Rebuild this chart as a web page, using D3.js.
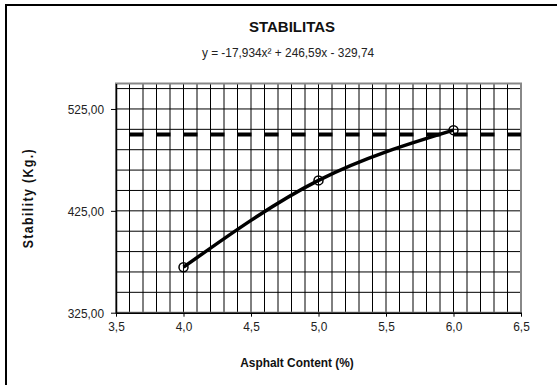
<!DOCTYPE html>
<html>
<head>
<meta charset="utf-8">
<script src="https://cdn.jsdelivr.net/npm/d3@7"></script>
<style>
  body { margin: 0; background: #fff; }
  svg { display: block; font-family: "Liberation Sans", Arial, sans-serif; }
</style>
</head>
<body>
<svg id="chart" width="557" height="385"></svg>
<script>
// Data;
const asphaltContent = [4.0, 5.0, 6.0];
const stability = [369.7, 454.9, 504.2];
const limitX = [3.6, 6.5];
const limitY = [500, 500];
const xTicks = [3.5, 4.0, 4.5, 5.0, 5.5, 6.0, 6.5];
const yTicks = [325, 425, 525];
const chartTitle = 'STABILITAS';
const equation = 'y = -17,934x² + 246,59x - 329,74';
const xTitle = 'Asphalt Content (%)';
const yTitle = 'Stability (Kg.)';

const svg = d3.select('#chart');
const fmt = (d, n) => d.toFixed(n).replace('.', ',');
// Narrow look of the original labels;
const SQ = 0.88;

// Outer frame;
svg.append('rect')
    .attr('x', 6).attr('y', 5)
    .attr('width', 600).attr('height', 420)
    .attr('fill', 'none').attr('stroke', '#000').attr('stroke-width', 2);

// Scales;
const x = d3.scaleLinear().domain([3.5, 6.5]).range([116, 521]);
const y = d3.scaleLinear().domain([325, 550]).range([312.7, 83.5]);

// Grid;
const grid = svg.append('g').attr('stroke', '#000').attr('stroke-width', 1);
grid.selectAll('.vg')
    .data(d3.range(36, 65).map((d) => d / 10))
    .enter().append('line')
    .attr('x1', (d) => x(d)).attr('x2', (d) => x(d))
    .attr('y1', y.range()[0]).attr('y2', y.range()[1]);
grid.selectAll('.hg')
    .data(d3.range(345, 550, 20))
    .enter().append('line')
    .attr('x1', x.range()[0]).attr('x2', x.range()[1])
    .attr('y1', (d) => y(d)).attr('y2', (d) => y(d));

// Plot border;
svg.append('rect')
    .attr('x', x.range()[0]).attr('y', y.range()[1])
    .attr('width', x.range()[1] - x.range()[0])
    .attr('height', y.range()[0] - y.range()[1])
    .attr('fill', 'none').attr('stroke', '#888').attr('stroke-width', 2);

// Axes;
const xAxis = svg.append('g')
    .attr('transform', `translate(0,${y.range()[0]})`)
    .call(d3.axisBottom(x).tickValues(xTicks).tickSize(4).tickSizeOuter(0).tickFormat((d) => fmt(d, 1)));
const yAxis = svg.append('g')
    .attr('transform', `translate(${x.range()[0]},0)`)
    .call(d3.axisLeft(y).tickValues(yTicks).tickSize(5).tickSizeOuter(0).tickFormat((d) => fmt(d, 2)));
[xAxis, yAxis].forEach((a) => {
    a.select('.domain').attr('stroke', '#000').attr('stroke-width', 1.5);
    a.selectAll('.tick line').attr('stroke', '#000');
    a.selectAll('text').attr('font-size', 13.5).attr('fill', '#222')
        .attr('font-family', '"Liberation Sans", Arial, sans-serif')
        .attr('transform', `scale(${SQ},1)`);
});
xAxis.selectAll('text').attr('y', 8.5).attr('dy', '0.71em');
yAxis.selectAll('text').attr('x', -12 / SQ).attr('dy', '0.37em');

// Limit line (dashed);
svg.append('path')
    .datum(limitX.map((d, i) => [d, limitY[i]]))
    .attr('fill', 'none').attr('stroke', '#000').attr('stroke-width', 4)
    .attr('stroke-dasharray', '14,13')
    .attr('d', d3.line().x((d) => x(d[0])).y((d) => y(d[1])));

// Trend curve;
const pts = asphaltContent.map((d, i) => [d, stability[i]]);
svg.append('path')
    .datum(pts)
    .attr('fill', 'none').attr('stroke', '#000').attr('stroke-width', 3.5)
    .attr('d', d3.line().curve(d3.curveNatural).x((d) => x(d[0])).y((d) => y(d[1])));

// Markers;
svg.selectAll('.pt')
    .data(pts)
    .enter().append('circle')
    .attr('cx', (d) => x(d[0])).attr('cy', (d) => y(d[1]))
    .attr('r', 4.5).attr('fill', 'none').attr('stroke', '#000').attr('stroke-width', 1.5);

// Titles;
function label(tx, ty, rot, size, bold, txt, spacing) {
    svg.append('text')
        .attr('transform', `translate(${tx},${ty}) rotate(${rot}) scale(${SQ},1)`)
        .attr('text-anchor', 'middle')
        .attr('font-size', size)
        .attr('font-weight', bold ? 'bold' : 'normal')
        .attr('letter-spacing', spacing || 0)
        .attr('fill', bold ? '#111' : '#222')
        .text(txt);
}
svg.append('text').attr('x', 292).attr('y', 31.5).attr('text-anchor', 'middle')
    .attr('font-size', 15).attr('font-weight', 'bold').attr('fill', '#111').text(chartTitle);
label(288, 56.5, 0, 13.5, false, equation);
label(297, 366.5, 0, 13.5, true, xTitle);
label(33, (y.range()[0] + y.range()[1]) / 2, -90, 14, true, yTitle, 1.6);
</script>
</body>
</html>
